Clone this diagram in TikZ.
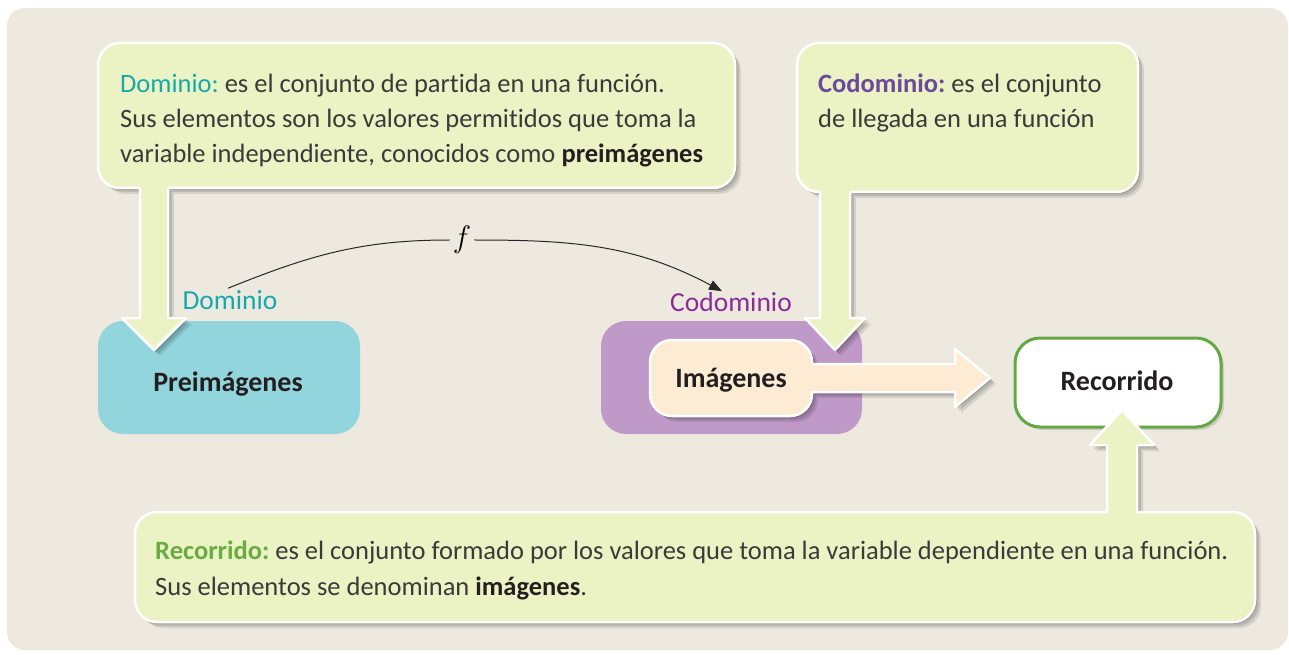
\documentclass[tikz,border=0pt]{standalone}
\usepackage{fontspec}
\setmainfont{Carlito}[Ligatures={NoCommon}]
\usetikzlibrary{shadows,arrows.meta}
\frenchspacing
\definecolor{bgc}{HTML}{EDE9DF}
\definecolor{callfill}{HTML}{EBF2C3}
\definecolor{prec}{HTML}{93D5DD}
\definecolor{codc}{HTML}{BF9AC9}
\definecolor{imgc}{HTML}{FDEBD3}
\definecolor{recg}{HTML}{64A843}
\definecolor{tealc}{HTML}{15A9AE}
\definecolor{purlab}{HTML}{8A2C98}
\definecolor{purbold}{HTML}{6B4A9E}
\definecolor{greenb}{HTML}{6AAB43}
\definecolor{txt}{HTML}{3A3A3A}
\definecolor{boldtxt}{HTML}{231F20}
\tikzset{
  softshadow/.style={
    drop shadow={shadow xshift=2pt, shadow yshift=-2pt, opacity=0.12, fill=black},
    drop shadow={shadow xshift=4pt, shadow yshift=-4pt, opacity=0.12, fill=black},
    drop shadow={shadow xshift=6pt, shadow yshift=-6pt, opacity=0.10, fill=black}},
  callout/.style={fill=callfill, draw=white, line width=2.5pt, line join=round, softshadow},
  setbox/.style={rounded corners=25pt, inner sep=0pt},
  bodytext/.style={anchor=base west, inner sep=0pt, text=txt, font=\fontsize{26.5}{35}\selectfont\frenchspacing},
  boxtext/.style={inner sep=0pt, text=boldtxt, font=\fontsize{28}{32}\selectfont\bfseries},
  labeltext/.style={inner sep=1pt, font=\fontsize{27.5}{32}\selectfont}
}
\begin{document}
\begin{tikzpicture}[x=1pt,y=1pt]
\useasboundingbox (0,0) rectangle (1289,654);
\fill[white] (0,0) rectangle (1289,654);
\fill[bgc, rounded corners=18pt] (7,4) rectangle (1288,646);

% sets
\node[setbox, fill=prec, minimum width=262pt, minimum height=113pt] (pre) at (229,276.5) {};
\node[boxtext] (pretext) at (228,270) {Preimágenes};
\node[setbox, fill=codc, minimum width=261pt, minimum height=113pt] (cod) at (731.5,276.5) {};

% Imágenes with block arrow
\path[fill=imgc, draw=white, line width=2.5pt, line join=round, softshadow]
  (672,238) -- (790,238) arc[start angle=270,end angle=360,radius=22]
  -- (812,262) -- (955,262) -- (955,247) -- (990,276) -- (955,305) -- (955,290) -- (812,290)
  -- (812,292) arc[start angle=0,end angle=90,radius=22]
  -- (672,314) arc[start angle=90,end angle=180,radius=22]
  -- (650,260) arc[start angle=180,end angle=270,radius=22] -- cycle;
\node[boxtext] (img) at (731,274) {Imágenes};

% Recorrido
\node[setbox, fill=white, draw=recg, line width=3pt, minimum width=206pt, minimum height=89pt,
  drop shadow={shadow xshift=3pt, shadow yshift=-3pt, opacity=0.12, fill=black}] (rec) at (1118,271.5) {};
\node[boxtext] (rectext) at (1117,273) {Recorrido};

% labels and f
\node[labeltext, text=tealc] (dlab) at (230,354) {Dominio};
\node[labeltext, text=purlab] (clab) at (731,352) {Codominio};
\node[inner sep=3pt, font=\fontsize{24.88}{28}\selectfont] (f) at (462,414) {\scalebox{1.25}{$f$}};
\draw[line width=1pt, black!85] ([xshift=-2pt,yshift=1pt]dlab.north) to[out=22,in=180] (f.west);
\draw[line width=1pt, black!85, -{Triangle[length=13pt,width=10pt]}] (f.east) to[out=0,in=152] ([xshift=-9pt,yshift=0pt]clab.north);

% Dominio callout
\path[callout] (168,466) -- (713,466) arc[start angle=270,end angle=360,radius=22]
  -- (735,589) arc[start angle=0,end angle=90,radius=22]
  -- (120,611) arc[start angle=90,end angle=180,radius=22]
  -- (98,488) arc[start angle=180,end angle=270,radius=22]
  -- (140,466) -- (140,336) -- (122,336) -- (154,304) -- (186,336) -- (168,336) -- cycle;
\node[bodytext] (d1) at (120,561) {\textcolor{tealc}{Dominio:} es el conjunto de partida en una función.};
\node[bodytext] (d2) at (120,526) {Sus elementos son los valores permitidos que toma la};
\node[bodytext] (d3) at (120,491) {variable independiente, conocidos como \textcolor{boldtxt}{\textbf{preimágenes}}};

% Codominio callout
\path[callout] (850,462) -- (1116,462) arc[start angle=270,end angle=360,radius=22]
  -- (1138,589) arc[start angle=0,end angle=90,radius=22]
  -- (819,611) arc[start angle=90,end angle=180,radius=22]
  -- (797,484) arc[start angle=180,end angle=270,radius=22]
  -- (820,462) -- (820,336) -- (805,336) -- (835,304) -- (865,336) -- (850,336) -- cycle;
\node[bodytext] (c1) at (818,561) {\textcolor{purbold}{\textbf{Codominio:}} es el conjunto};
\node[bodytext] (c2) at (818,526) {de llegada en una función};

% Recorrido callout
\path[callout] (157,32) -- (1233,32) arc[start angle=270,end angle=360,radius=22]
  -- (1255,120) arc[start angle=0,end angle=90,radius=22]
  -- (1137,142) -- (1137,209) -- (1154,209) -- (1122,244) -- (1090,209) -- (1107,209) -- (1107,142)
  -- (157,142) arc[start angle=90,end angle=180,radius=22]
  -- (135,54) arc[start angle=180,end angle=270,radius=22] -- cycle;
\node[bodytext] (r1) at (155,95) {\textcolor{greenb}{\textbf{Recorrido:}} es el conjunto formado por los valores que toma la variable dependiente en una función.};
\node[bodytext] (r2) at (155,59) {Sus elementos se denominan \textcolor{boldtxt}{\textbf{imágenes}}.};
\end{tikzpicture}
\end{document}
